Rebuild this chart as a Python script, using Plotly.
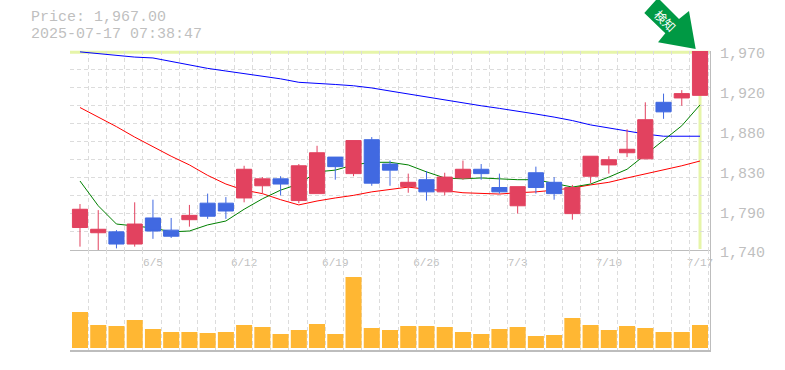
import plotly.graph_objects as go

dates = ["5/30","6/2","6/3","6/4","6/5","6/6","6/9","6/10","6/11","6/12","6/13","6/16","6/17","6/18","6/19",
         "6/20","6/23","6/24","6/25","6/26","6/27","6/30","7/1","7/2","7/3","7/4","7/7","7/8","7/9","7/10",
         "7/11","7/14","7/15","7/16","7/17"]
opens  = [1764,1758,1759,1745,1775,1761,1773,1792,1792,1798,1812,1820,1795,1803,1845,1826,1865,1837,1811,1819,
          1805,1821,1831,1810,1789,1827,1816,1780,1823,1836,1850,1843,1908,1913,1916]
highs  = [1791,1784,1761,1793,1796,1775,1790,1803,1799,1835,1822,1823,1837,1858,1845,1864,1868,1841,1826,1829,
          1827,1841,1837,1826,1811,1834,1822,1813,1846,1846,1877,1908,1918,1922,1967]
lows   = [1742,1738,1740,1742,1751,1752,1765,1774,1774,1793,1803,1801,1792,1803,1819,1823,1812,1812,1804,1795,
          1801,1819,1819,1803,1780,1803,1796,1773,1815,1826,1845,1843,1889,1904,1916]
closes = [1785,1762,1745,1768,1760,1754,1778,1777,1783,1831,1820,1814,1835,1850,1834,1864,1815,1830,1816,1805,
          1822,1831,1826,1805,1811,1810,1803,1810,1846,1842,1854,1888,1897,1918,1967]
ma_short = [1817.5,1789,1768,1766,1763.5,1759,1760,1767,1771.5,1785,1797,1807,1814,1828,1830,1836,1839,1839,1836,1828,
            1821,1820,1821,1820,1819,1819,1815,1810.5,1814,1822,1831,1847.5,1864.6,1881,1905]
ma_mid = [1902,1891,1880,1868,1857,1846,1836,1824,1814,1807,1803,1796,1790,1794.5,1798,1801,1805,1808,1810.5,1808,
          1806.5,1804,1803,1802.5,1804,1805,1807,1809.5,1813,1816,1821,1825.5,1830,1835,1840.5]
ma_long = [1966,1964,1962,1960,1959,1955,1951,1947,1944,1941,1938,1935,1931,1930,1928.5,1927,1924.5,1921,1917.5,1914,
           1910.5,1907,1904,1901,1898,1894.5,1891,1887,1882,1878.5,1875,1871.5,1869,1869,1869]
volumes = [360,230,220,280,190,160,160,150,160,230,210,140,180,240,140,710,200,180,220,220,
           210,160,140,190,210,120,130,300,230,180,220,200,160,160,230]
price_ticks = [1967,1921,1875,1829,1783,1739]
price_labels = ["1,970","1,920","1,880","1,830","1,790","1,740"]
date_label_idx = [4,9,14,19,24,29,34]
title_lines = ["Price: 1,967.00","2025-07-17 07:38:47"]
badge_text = "検知"

W, H = 785, 370
L, R, T, B = 70, 710, 51, 350
PANE = 250
GRAY = "#BDBDBD"
GRID = "#DCDCDC"
TXT = "#BFBFBF"
HILITE = "#E6F5A9"
MONO = "Liberation Mono"

def px(x): return (x - L) / (R - L)
def py(y): return (B - y) / (B - T)

idx = list(range(len(dates)))
xr = [-0.548, len(dates) - 1 + 0.548]
yr = [1738.15, 1967]
grid_x = [i - 0.55 for i in idx] + [idx[-1] + 0.44]
grid_y = [yr[0] + (yr[1] - yr[0]) * k / 11 for k in range(12)]

fig = go.Figure()
fig.add_trace(go.Bar(x=idx, y=volumes, marker=dict(color="#FFB733", line=dict(width=0)),
                     xaxis="x2", yaxis="y2", showlegend=False))
for vals, col, w in ((ma_long, "#0000FF", 1), (ma_mid, "#FF0000", 1), (ma_short, "#008000", 1)):
    fig.add_trace(go.Scatter(x=idx, y=vals, mode="lines", line=dict(color=col, width=w),
                             xaxis="x", yaxis="y", showlegend=False))
# candles on an overlaying axis so they are drawn above the moving averages
fig.add_trace(go.Candlestick(x=idx, open=opens, high=highs, low=lows, close=closes,
    increasing=dict(line=dict(color="#E2425F", width=1), fillcolor="#E2425F"),
    decreasing=dict(line=dict(color="#4169E1", width=1), fillcolor="#4169E1"),
    xaxis="x", yaxis="y3", showlegend=False))

def minor_grid(vals):
    return dict(tickmode="array", tickvals=vals, showgrid=True, gridcolor=GRID,
                griddash="4px,3px", gridwidth=1, ticklen=0)

fig.update_layout(
    width=W, height=H, paper_bgcolor="white", plot_bgcolor="white",
    margin=dict(l=L, r=W - R, t=T, b=H - B, pad=0, autoexpand=False),
    boxgap=0.17, boxgroupgap=0, bargap=0.12, showlegend=False,
    xaxis=dict(domain=[0, 1], range=xr, anchor="y", rangeslider=dict(visible=False), automargin=False,
               tickmode="array", tickvals=[idx[i] for i in date_label_idx],
               ticktext=[dates[i] for i in date_label_idx], ticklen=0, ticklabelstandoff=2,
               tickfont=dict(family=MONO, size=11, color=TXT), showgrid=False, zeroline=False,
               showline=True, linecolor=GRAY, linewidth=1, minor=minor_grid(grid_x)),
    xaxis2=dict(domain=[0, 1], range=xr, anchor="y2", matches="x", showticklabels=False, ticks="",
                showgrid=False, zeroline=False, showline=True, linecolor=GRAY, linewidth=2, automargin=False,
                tickmode="array", tickvals=[], minor=minor_grid(grid_x)),
    yaxis=dict(domain=[py(PANE), 1], range=yr, anchor="x", side="right", automargin=False,
               tickmode="array", tickvals=price_ticks, ticktext=price_labels, ticklen=0,
               ticklabelstandoff=6, ticklabelshift=2,
               tickfont=dict(family=MONO, size=15, color=TXT), showgrid=False, zeroline=False,
               showline=True, linecolor=GRAY, linewidth=1, minor=minor_grid(grid_y)),
    yaxis3=dict(overlaying="y", range=yr, anchor="x", side="right", automargin=False,
                showticklabels=False, ticks="", showgrid=False, zeroline=False, showline=False),
    yaxis2=dict(domain=[0, py(PANE)], range=[-20, 980], anchor="x2", side="right", automargin=False,
                showticklabels=False, ticks="", showgrid=False, zeroline=False,
                showline=True, linecolor=GRAY, linewidth=1),
    shapes=[
        dict(type="line", layer="below", xref="paper", yref="paper", x0=0, x1=1,
             y0=py(52.2), y1=py(52.2), line=dict(color=HILITE, width=3)),
        dict(type="line", layer="below", xref="x", yref="paper", x0=idx[-1], x1=idx[-1],
             y0=py(52), y1=py(249), line=dict(color=HILITE, width=3)),
        dict(type="path", xref="paper", yref="paper", fillcolor="#009944", line=dict(width=0),
             path="M {} {} L {} {} L {} {} L {} {} L {} {} L {} {} L {} {} L {} {} Z".format(
                 px(695.7), py(49), px(658), py(42.3), px(665.3), py(33.3), px(644.3), py(13),
                 px(656), py(0), px(660), py(0), px(679), py(19), px(689), py(11))),
    ],
    annotations=[
        dict(text=title_lines[0], xref="paper", yref="paper", x=px(29), y=py(17), xanchor="left",
             yanchor="middle", showarrow=False, font=dict(family=MONO, size=15, color=TXT)),
        dict(text=title_lines[1], xref="paper", yref="paper", x=px(29), y=py(34), xanchor="left",
             yanchor="middle", showarrow=False, font=dict(family=MONO, size=15, color=TXT)),
        dict(text=badge_text, xref="paper", yref="paper", x=px(666), y=py(20), xanchor="center",
             yanchor="middle", textangle=45, showarrow=False,
             font=dict(family="Noto Sans CJK JP", size=12, color="white")),
    ],
)
fig.write_html("out.html", post_script="document.body.style.margin='0';",
               config={"displayModeBar": False})
